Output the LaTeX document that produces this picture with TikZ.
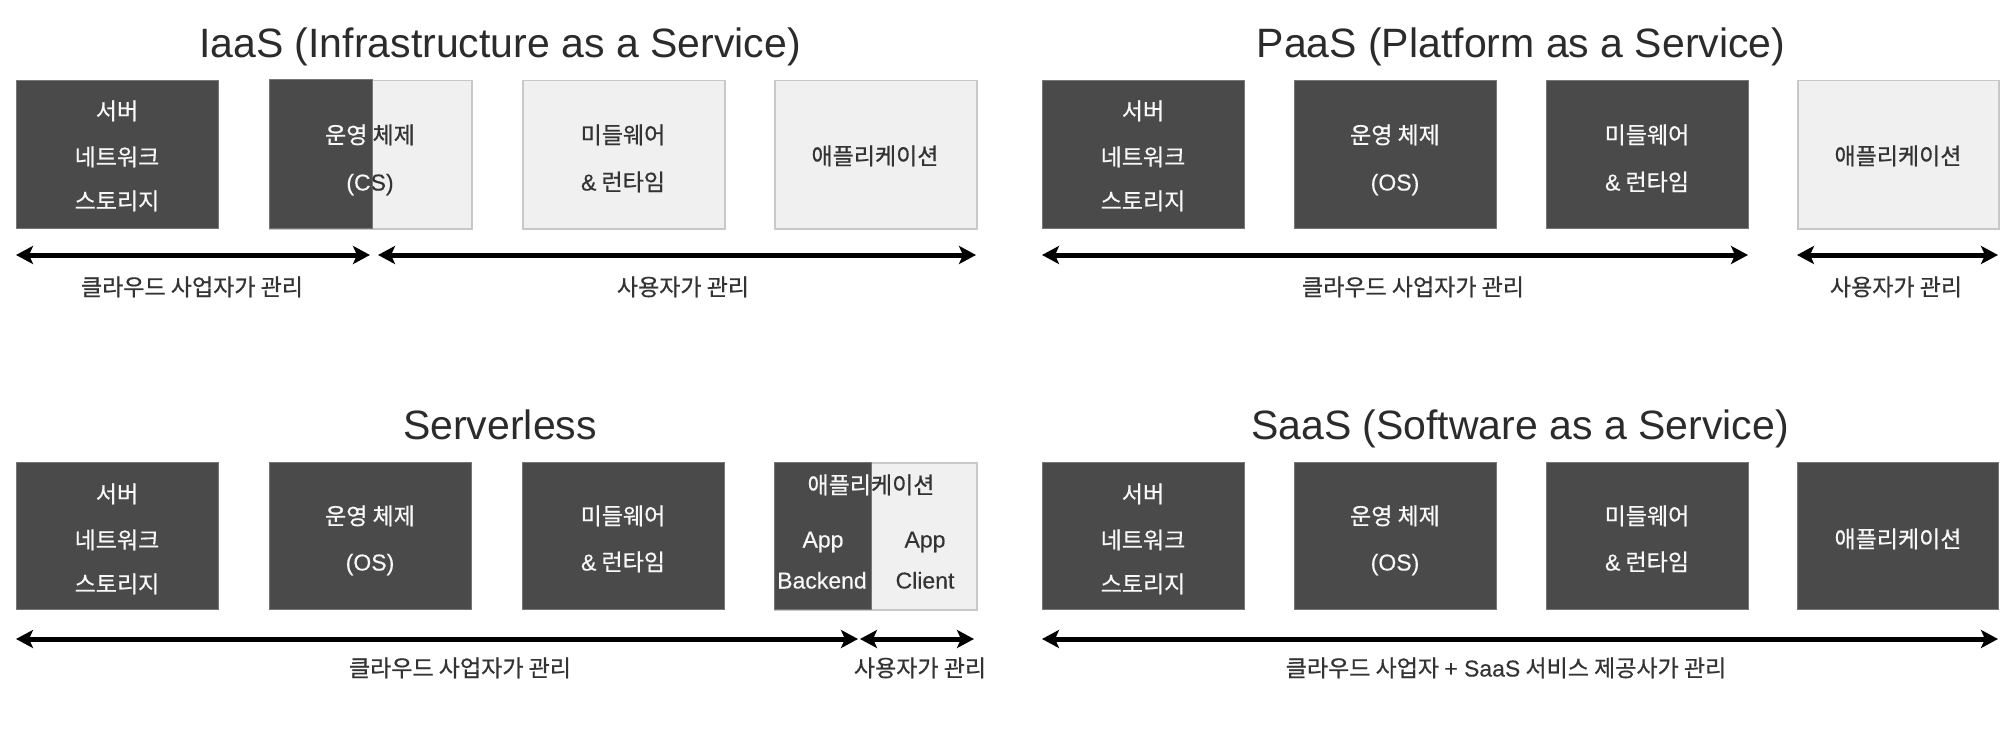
\documentclass[tikz,border=0pt]{standalone}
\usepackage{fontspec}
\setmainfont{Noto Sans CJK KR}[FakeBold=0.6]
\newfontfamily\lat{Liberation Sans}[FakeBold=0.3]
\newfontfamily\ttlfont{Liberation Sans}
\usetikzlibrary{arrows.meta}
\definecolor{dk}{HTML}{4A4A4A}
\definecolor{lt}{HTML}{F0F0F0}
\definecolor{dkedge}{HTML}{767676}
\definecolor{ltedge}{HTML}{C8C8C8}
\definecolor{ink}{HTML}{333333}
\definecolor{wtxt}{HTML}{F8F8F8}
\definecolor{ttlc}{HTML}{2B2B2B}
\tikzset{
  bx/.style={minimum width=202pt, minimum height=148pt, inner sep=0pt, anchor=north west},
  bxb/.style={bx, minimum height=147pt},
  darkbox/.style={fill=dk, draw=dkedge, line width=1pt},
  lightbox/.style={fill=lt, draw=ltedge, line width=1.5pt},
  wt/.style={text=wtxt, font=\fontsize{23}{27}\selectfont, inner sep=0pt, text height=17pt, text depth=0pt},
  bt/.style={wt, text=ink},
  lbl/.style={text=ink, font=\fontsize{23}{27}\selectfont, inner sep=0pt, text height=17pt, text depth=0pt},
  ttl/.style={text=ttlc, font=\ttlfont\fontsize{41}{48}\selectfont, inner sep=0pt, text height=29pt, text depth=0pt},
  arr/.style={arrows={Stealth[length=17pt,width=18pt,inset=4pt]-Stealth[length=17pt,width=18pt,inset=4pt]}, line width=5pt, black}
}
\begin{document}
\begin{tikzpicture}[x=1pt,y=-1pt]
\useasboundingbox[fill=white] (0,0) rectangle (2000,733);

% ================= IaaS =================
\node[ttl] (tIaaS) at (500,43) {IaaS (Infrastructure as a Service)};
\node[darkbox,bx] (i1) at (16,80) {};
\node[wt] (i1a) at (117,111) {서버};
\node[wt] (i1b) at (117,157) {네트워크};
\node[wt] (i1c) at (117,201) {스토리지};

\node[lightbox,bx] (i2) at (269,80) {};
\path[fill=dk, draw=dkedge, line width=1pt] (i2.north west) rectangle (372,228);
\begin{scope}
  \clip (269,80) rectangle (372,228);
  \node[wt] (i2a) at (370,135) {운영 체제};
  \node[wt] (i2b) at (370,182) {\lat (CS)};
\end{scope}
\begin{scope}
  \clip (372,80) rectangle (471,228);
  \node[bt] (i2c) at (370,135) {운영 체제};
  \node[bt] (i2d) at (370,182) {\lat (CS)};
\end{scope}

\node[lightbox,bx] (i3) at (522,80) {};
\node[bt] (i3a) at (623,135) {미들웨어};
\node[bt] (i3b) at (623,182) {{\lat \&} 런타임};

\node[lightbox,bx] (i4) at (774,80) {};
\node[bt] (i4a) at (875,156) {애플리케이션};

\coordinate (ia1) at (16,255);
\coordinate (ia2) at (370,255);
\coordinate (ia3) at (378,255);
\coordinate (ia4) at (976,255);
\draw[arr] (ia1) -- (ia2);
\draw[arr] (ia3) -- (ia4);
\node[lbl] (il1) at (192,287) {클라우드 사업자가 관리};
\node[lbl] (il2) at (683,287) {사용자가 관리};

% ================= PaaS =================
\node[ttl] (tPaaS) at (1521,43) {PaaS (Platform as a Service)};
\node[darkbox,bx] (p1) at (1042,80) {};
\node[wt] (p1a) at (1143,111) {서버};
\node[wt] (p1b) at (1143,157) {네트워크};
\node[wt] (p1c) at (1143,201) {스토리지};

\node[darkbox,bx] (p2) at (1294,80) {};
\node[wt] (p2a) at (1395,135) {운영 체제};
\node[wt] (p2b) at (1395,182) {\lat (OS)};

\node[darkbox,bx] (p3) at (1546,80) {};
\node[wt] (p3a) at (1647,135) {미들웨어};
\node[wt] (p3b) at (1647,182) {{\lat \&} 런타임};

\node[lightbox,bx,minimum width=201pt] (p4) at (1797,80) {};
\node[bt] (p4a) at (1898,156) {애플리케이션};

\coordinate (pa1) at (1042,255);
\coordinate (pa2) at (1748,255);
\coordinate (pa3) at (1797,255);
\coordinate (pa4) at (1998,255);
\draw[arr] (pa1) -- (pa2);
\draw[arr] (pa3) -- (pa4);
\node[lbl] (pl1) at (1413,287) {클라우드 사업자가 관리};
\node[lbl] (pl2) at (1896,287) {사용자가 관리};

% ================= Serverless =================
\node[ttl] (tSL) at (500,425) {Serverless};
\node[darkbox,bxb] (s1) at (16,462) {};
\node[wt] (s1a) at (117,494) {서버};
\node[wt] (s1b) at (117,540) {네트워크};
\node[wt] (s1c) at (117,584) {스토리지};

\node[darkbox,bxb] (s2) at (269,462) {};
\node[wt] (s2a) at (370,516) {운영 체제};
\node[wt] (s2b) at (370,562) {\lat (OS)};

\node[darkbox,bxb] (s3) at (522,462) {};
\node[wt] (s3a) at (623,516) {미들웨어};
\node[wt] (s3b) at (623,562) {{\lat \&} 런타임};

\node[lightbox,bxb] (s4) at (774,462) {};
\path[fill=dk, draw=dkedge, line width=1pt] (s4.north west) rectangle (871,609);
\begin{scope}
  \clip (774,462) rectangle (871,609);
  \node[wt] (s4a) at (871,485) {애플리케이션};
\end{scope}
\begin{scope}
  \clip (871,462) rectangle (976,609);
  \node[bt] (s4b) at (871,485) {애플리케이션};
\end{scope}
\node[wt] (s4c) at (823,539) {\lat App};
\node[wt] (s4d) at (822,580) {\lat Backend};
\node[bt] (s4e) at (925,539) {\lat App};
\node[bt] (s4f) at (925,580) {\lat Client};

\coordinate (sa1) at (16,639);
\coordinate (sa2) at (858,639);
\coordinate (sa3) at (860,639);
\coordinate (sa4) at (974,639);
\draw[arr] (sa1) -- (sa2);
\draw[arr] (sa3) -- (sa4);
\node[lbl] (sl1) at (460,668) {클라우드 사업자가 관리};
\node[lbl] (sl2) at (920,668) {사용자가 관리};

% ================= SaaS =================
\node[ttl] (tSaaS) at (1520,425) {SaaS (Software as a Service)};
\node[darkbox,bxb] (q1) at (1042,462) {};
\node[wt] (q1a) at (1143,494) {서버};
\node[wt] (q1b) at (1143,540) {네트워크};
\node[wt] (q1c) at (1143,584) {스토리지};

\node[darkbox,bxb] (q2) at (1294,462) {};
\node[wt] (q2a) at (1395,516) {운영 체제};
\node[wt] (q2b) at (1395,562) {\lat (OS)};

\node[darkbox,bxb] (q3) at (1546,462) {};
\node[wt] (q3a) at (1647,516) {미들웨어};
\node[wt] (q3b) at (1647,562) {{\lat \&} 런타임};

\node[darkbox,bxb,minimum width=201pt] (q4) at (1797,462) {};
\node[wt] (q4a) at (1898,539) {애플리케이션};

\coordinate (qa1) at (1042,639);
\coordinate (qa2) at (1998,639);
\draw[arr] (qa1) -- (qa2);
\node[lbl] (ql1) at (1506,668) {클라우드 사업자 {\lat + SaaS} 서비스 제공사가 관리};
\end{tikzpicture}
\end{document}
